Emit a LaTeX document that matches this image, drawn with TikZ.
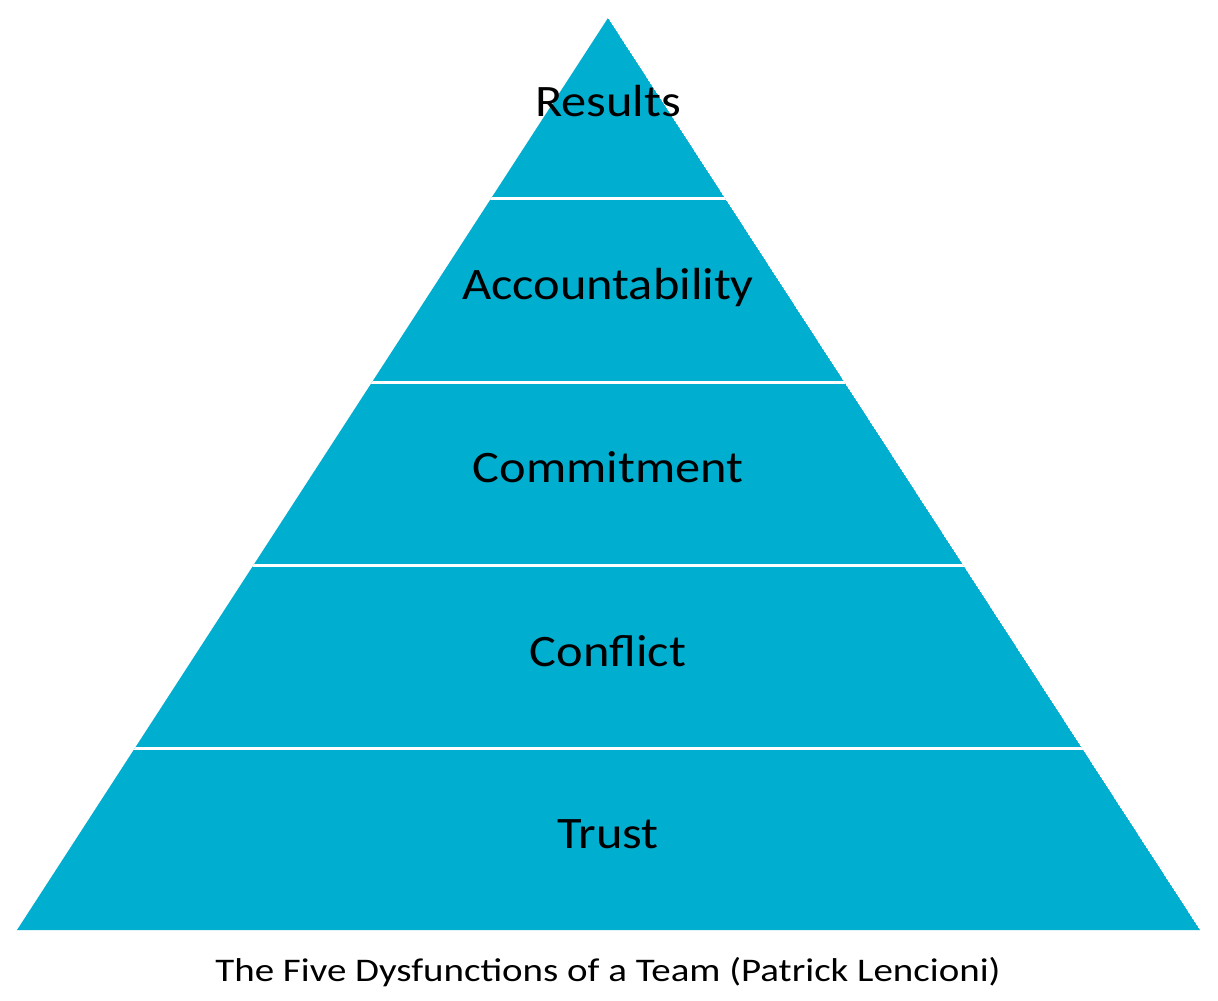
\documentclass[tikz,border=0pt]{standalone}
\usepackage{fontspec}
\setmainfont{Carlito}
\definecolor{pyr}{RGB}{0,174,208}
\begin{document}
\begin{tikzpicture}[x=0.5pt,y=-0.5pt,
  lvl/.style={anchor=base,inner sep=0pt,font=\fontsize{22.5}{26}\selectfont,xscale=1.12,text=black},
  captext/.style={anchor=base,inner sep=0pt,font=\fontsize{16.5}{19}\selectfont,xscale=1.18,text=black},
  sep/.style={draw=white,line width=1.5pt}]
\useasboundingbox[fill=white] (0,0) rectangle (1218,1000);
\coordinate (apex) at (608,18);
\coordinate (bl) at (17,930);
\coordinate (br) at (1200,930);
\begin{scope}
\clip (apex) -- (br) -- (bl) -- cycle;
\fill[pyr] (apex) -- (br) -- (bl) -- cycle;
\foreach \yy in {198,382,565,748} \draw[sep] (0,\yy) -- (1218,\yy);
\end{scope}
\node[lvl] (results) at (608,117) {Results};
\node[lvl] (acc) at (608,299) {Accountability};
\node[lvl] (com) at (608,482) {Commitment};
\node[lvl] (con) at (608,666) {Conflict};
\node[lvl] (trust) at (608,848) {Trust};
\node[captext] (caption) at (608,981) {The Five Dysfunctions of a Team (Patrick Lencioni)};
\end{tikzpicture}
\end{document}
